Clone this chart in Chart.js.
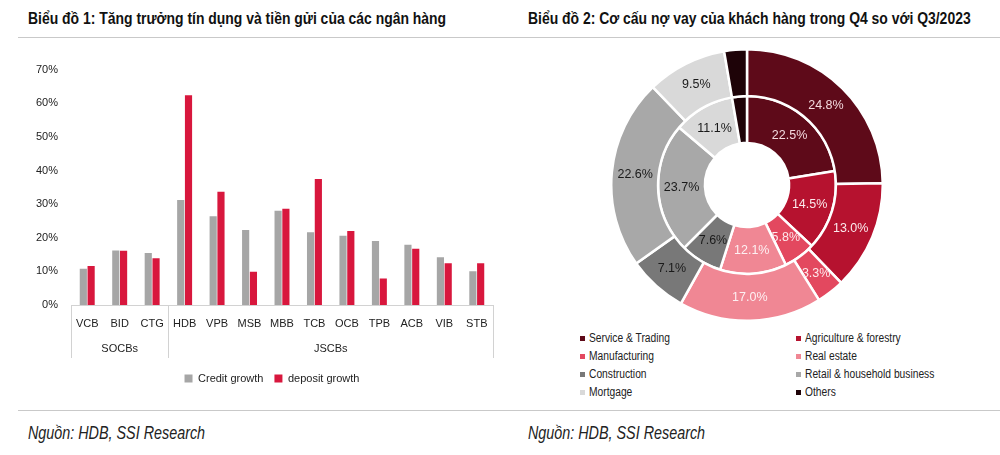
<!DOCTYPE html>
<html>
<head>
<meta charset="utf-8">
<script src="https://cdn.jsdelivr.net/npm/chart.js@4.4.1/dist/chart.umd.min.js"></script>
<style>
  html, body { margin: 0; padding: 0; background: #fff; }
  body { width: 1000px; height: 455px; position: relative; overflow: hidden;
         font-family: "Liberation Sans", Arial, sans-serif; color: #1a1a1a; }
  .narrow { display: inline-block; transform: scaleX(0.82); transform-origin: 0 50%; }
  .title { position: absolute; top: 10px; font-weight: bold; font-size: 17px; line-height: 17px; white-space: nowrap; color: #111; }
  .hline { position: absolute; height: 1px; background: #c9c9c9; }
  .source { position: absolute; top: 425px; font-style: italic; font-size: 17.5px; line-height: 17.5px; white-space: nowrap; color: #222; }
  #barBox { position: absolute; left: 0; top: 50px; width: 544px; height: 350px; }
  #pieBox { position: absolute; left: 610px; top: 48px; width: 274px; height: 274px; }
  #pieLegend { position: absolute; left: 580px; top: 329px; width: 420px; display: grid;
               grid-template-columns: 216px 200px; grid-auto-rows: 18px; font-size: 12.5px; color: #222; }
  #pieLegend div { display: flex; align-items: center; white-space: nowrap; }
  #pieLegend span.sw { display: inline-block; width: 5px; height: 5px; margin-right: 4px; }
</style>
</head>
<body>
<div class="title" style="left:28px"><span class="narrow">Biểu đồ 1: Tăng trưởng tín dụng và tiền gửi của các ngân hàng</span></div>
<div class="title" style="left:528px"><span class="narrow">Biểu đồ 2: Cơ cấu nợ vay của khách hàng trong Q4 so với Q3/2023</span></div>
<div class="hline" style="left:18px; width:982px; top:37px"></div>
<div id="barBox"><canvas id="bar"></canvas></div>
<div id="pieBox"><canvas id="pie"></canvas></div>
<div id="pieLegend"></div>
<div class="hline" style="left:18px; width:982px; top:410px"></div>
<div class="source" style="left:28px"><span class="narrow">Nguồn: HDB, SSI Research</span></div>
<div class="source" style="left:528px"><span class="narrow">Nguồn: HDB, SSI Research</span></div>
<script>
// ---------- Chart 1 data ----------
const banks = ['VCB','BID','CTG','HDB','VPB','MSB','MBB','TCB','OCB','TPB','ACB','VIB','STB'];
const creditGrowth = [10.8,16.2,15.5,31.2,26.4,22.3,28.0,21.6,20.6,19.0,17.9,14.2,10.0];
const depositGrowth = [11.6,16.1,13.9,62.4,33.7,9.9,28.6,37.5,22.0,7.9,16.7,12.4,12.4];
const groupLabels = ['SOCBs','JSCBs'];
const groupSizes = [3,10];
const yTickMin = 0, yTickMax = 70, yTickStep = 10;
const seriesNames = ['Credit growth','deposit growth'];

// ---------- Chart 2 data ----------
const sectors = ['Service & Trading','Agriculture & forestry','Manufacturing','Real estate','Construction','Retail & household business','Mortgage','Others'];
const outerShares = [24.8,13.0,3.3,17.0,7.1,22.6,9.5,2.7];
const innerShares = [22.5,14.5,5.8,12.1,7.6,23.7,11.1,2.7];

// ---------- styles ----------
const FONT = '"Liberation Sans", Arial, sans-serif';
const barColors = ['#a6a6a6','#d8173d'];
const sectorColors = ['#5e0a19','#b6122f','#e3485f','#f08794','#787878','#a8a8a8','#d9d9d9','#1e0308'];
const sectorLabelColors = ['#f4d9de','#fbe9ec','#fde9ec','#fdf0f2','#1a1a1a','#1a1a1a','#1a1a1a','#ffffff'];

Chart.defaults.font.family = FONT;
Chart.defaults.color = '#222';

const groupAxisPlugin = {
  id: 'groupAxis',
  afterDraw(chart) {
    const xs = chart.scales.x, ca = chart.chartArea, ctx = chart.ctx;
    const step = xs.getPixelForValue(1) - xs.getPixelForValue(0);
    ctx.save();
    ctx.strokeStyle = '#d2d2d2';
    ctx.lineWidth = 1;
    ctx.beginPath();
    ctx.moveTo(ca.left, Math.round(ca.bottom) + 0.5);
    ctx.lineTo(ca.right, Math.round(ca.bottom) + 0.5);
    let idx = 0;
    const bounds = [xs.getPixelForValue(0) - step / 2];
    groupSizes.forEach(n => { idx += n; bounds.push(xs.getPixelForValue(idx - 1) + step / 2); });
    bounds.forEach(b => {
      const bx = Math.round(b) + 0.5;
      ctx.moveTo(bx, ca.bottom);
      ctx.lineTo(bx, ca.bottom + 53);
    });
    ctx.stroke();
    ctx.fillStyle = '#222';
    ctx.font = '11px ' + FONT;
    ctx.textAlign = 'center';
    ctx.textBaseline = 'middle';
    groupLabels.forEach((g, i) => {
      ctx.fillText(g, (bounds[i] + bounds[i + 1]) / 2, ca.bottom + 44);
    });
    ctx.restore();
  }
};

new Chart(document.getElementById('bar'), {
  type: 'bar',
  data: {
    labels: banks,
    datasets: [
      { label: seriesNames[0], data: creditGrowth, backgroundColor: barColors[0] },
      { label: seriesNames[1], data: depositGrowth, backgroundColor: barColors[1] }
    ]
  },
  options: {
    responsive: true, maintainAspectRatio: false, animation: false,
    categoryPercentage: 0.48, barPercentage: 0.92,
    layout: { padding: { top: 17, right: 0, bottom: 6, left: 0 } },
    plugins: {
      tooltip: { enabled: false },
      legend: {
        position: 'bottom',
        labels: { boxWidth: 8, boxHeight: 8, padding: 11, font: { size: 11 }, color: '#222' }
      }
    },
    scales: {
      x: {
        grid: { display: false, drawTicks: false }, border: { display: false },
        ticks: { padding: 12, font: { size: 11 }, color: '#222', maxRotation: 0, autoSkip: false },
        afterFit(s) { s.height = 57; }
      },
      y: {
        min: yTickMin, max: yTickMax,
        grid: { display: false, drawTicks: false }, border: { display: false },
        ticks: { stepSize: yTickStep, padding: 13, font: { size: 11 }, color: '#222', callback: v => v + '%' },
        afterFit(s) { s.width = 71; }
      },
      yRightSpacer: {
        position: 'right', display: true,
        grid: { display: false, drawTicks: false }, border: { display: false },
        ticks: { display: false },
        afterFit(s) { s.width = 51; }
      }
    }
  },
  plugins: [groupAxisPlugin]
});

const arcLabelPlugin = {
  id: 'arcLabels',
  afterDatasetsDraw(chart) {
    const ctx = chart.ctx;
    ctx.save();
    ctx.font = '12.5px ' + FONT;
    ctx.textAlign = 'center';
    ctx.textBaseline = 'middle';
    chart.data.datasets.forEach((ds, di) => {
      chart.getDatasetMeta(di).data.forEach((arc, i) => {
        if (i === sectors.length - 1) return;
        const p = arc.tooltipPosition();
        ctx.fillStyle = sectorLabelColors[i];
        ctx.fillText(ds.data[i].toFixed(1) + '%', p.x, p.y);
      });
    });
    ctx.restore();
  }
};

new Chart(document.getElementById('pie'), {
  type: 'doughnut',
  data: {
    labels: sectors,
    datasets: [
      { label: 'Q4/2023', data: outerShares, backgroundColor: sectorColors, borderColor: '#fff', borderWidth: 2.5, hoverOffset: 0 },
      { label: 'Q3/2023', data: innerShares, backgroundColor: sectorColors, borderColor: '#fff', borderWidth: 2.5, hoverOffset: 0 }
    ]
  },
  options: {
    responsive: true, maintainAspectRatio: false, animation: false,
    cutout: '31%',
    plugins: { legend: { display: false }, tooltip: { enabled: false } }
  },
  plugins: [arcLabelPlugin]
});

// HTML legend for chart 2 (two columns)
const lg = document.getElementById('pieLegend');
sectors.forEach((s, i) => {
  const d = document.createElement('div');
  const sw = document.createElement('span');
  sw.className = 'sw';
  sw.style.background = sectorColors[i];
  const t = document.createElement('span');
  t.className = 'narrow';
  t.textContent = s;
  d.appendChild(sw);
  d.appendChild(t);
  lg.appendChild(d);
});
</script>
</body>
</html>
